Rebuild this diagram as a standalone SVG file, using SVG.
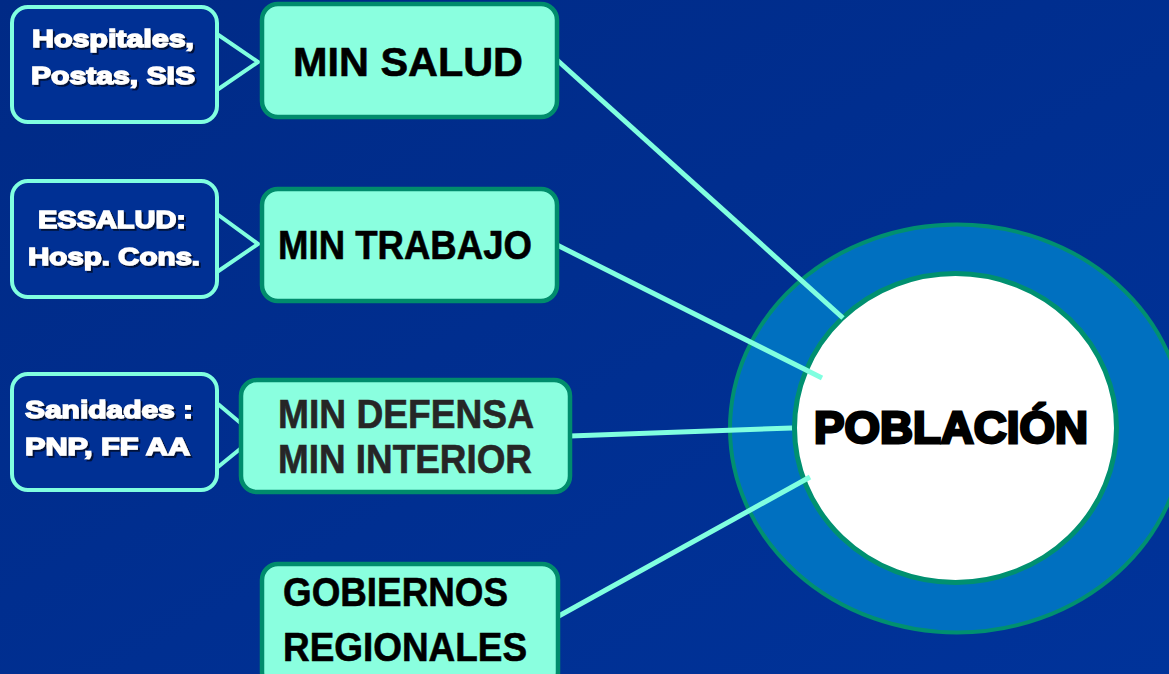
<svg xmlns="http://www.w3.org/2000/svg" width="1169" height="674" viewBox="0 0 1169 674">
<defs>
<linearGradient id="bg" x1="0" y1="0" x2="1" y2="1">
<stop offset="0" stop-color="#002a86"/>
<stop offset="1" stop-color="#00339a"/>
</linearGradient>
<filter id="sh" x="-10%" y="-20%" width="130%" height="150%">
<feDropShadow dx="2" dy="2" stdDeviation="0.6" flood-color="#000a30" flood-opacity="0.9"/>
</filter>
</defs>
<style>
.sbox{fill:#003094;stroke:#80ffe0;stroke-width:4}
.bbox{fill:#8affdf;stroke:#008c6c;stroke-width:4.5}
.ptr{fill:none;stroke:#80ffe0;stroke-width:4;stroke-linejoin:miter}
.conn{stroke:#80ffe0;stroke-width:5;fill:none}
.st{font-family:"Liberation Sans",Arial,sans-serif;font-weight:bold;font-size:24px;fill:#ffffff;stroke:#ffffff;stroke-width:1.4;filter:url(#sh)}
.bt{font-family:"Liberation Sans",Arial,sans-serif;font-weight:bold;font-size:40px;fill:#000000;stroke:#000000;stroke-width:0.6}
.dt{fill:#262626;stroke:#262626}
</style>
<rect x="0" y="0" width="1169" height="674" fill="url(#bg)"/>

<g id="poblacion">
<ellipse cx="957" cy="428.5" rx="227" ry="204" fill="#0070c0" stroke="#009070" stroke-width="4"/>
<ellipse cx="955.5" cy="428" rx="161" ry="154.5" fill="#ffffff" stroke="#009070" stroke-width="5"/>
</g>

<g id="connectors">
<line class="conn" x1="557" y1="60" x2="843" y2="318"/>
<line class="conn" x1="557" y1="245" x2="822" y2="378"/>
<line class="conn" x1="570" y1="436" x2="792" y2="428"/>
<line class="conn" x1="557" y1="617" x2="810" y2="477"/>
<polyline class="ptr" points="217,34 258,62 217,90"/>
<polyline class="ptr" points="217,214 258,244 217,272"/>
<polyline class="ptr" points="218,404 256,436 218,467"/>
</g>

<g id="poblacion-label">
<text x="951" y="443" text-anchor="middle" font-family="'Liberation Sans',Arial,sans-serif" font-weight="bold" font-size="44" fill="#000" stroke="#000" stroke-width="2.8" textLength="274" lengthAdjust="spacingAndGlyphs">POBLACIÓN</text>
</g>

<g id="hospitales">
<rect class="sbox" x="12" y="7" width="205" height="115" rx="16"/>
<text class="st" x="113" y="47" text-anchor="middle" textLength="162" lengthAdjust="spacingAndGlyphs">Hospitales,</text>
<text class="st" x="113" y="84" text-anchor="middle" textLength="164" lengthAdjust="spacingAndGlyphs">Postas, SIS</text>
</g>

<g id="min-salud">
<rect class="bbox" x="262" y="4" width="295" height="113" rx="16"/>
<text class="bt" x="408" y="76" text-anchor="middle" font-size="43" textLength="230" lengthAdjust="spacingAndGlyphs">MIN SALUD</text>
</g>

<g id="essalud">
<rect class="sbox" x="12" y="181" width="205" height="116" rx="16"/>
<text class="st" x="112" y="228" text-anchor="middle" textLength="148" lengthAdjust="spacingAndGlyphs">ESSALUD:</text>
<text class="st" x="114" y="265" text-anchor="middle" textLength="172" lengthAdjust="spacingAndGlyphs">Hosp. Cons.</text>
</g>

<g id="min-trabajo">
<rect class="bbox" x="262" y="189" width="295" height="112" rx="16"/>
<text class="bt" x="405" y="259" text-anchor="middle" font-size="41" textLength="254" lengthAdjust="spacingAndGlyphs">MIN TRABAJO</text>
</g>

<g id="sanidades">
<rect class="sbox" x="12" y="374" width="205" height="116" rx="16"/>
<text class="st" x="25" y="418" textLength="168" lengthAdjust="spacingAndGlyphs">Sanidades :</text>
<text class="st" x="25" y="455" textLength="165" lengthAdjust="spacingAndGlyphs">PNP, FF AA</text>
</g>

<g id="min-defensa-interior">
<rect class="bbox" x="241" y="380" width="329" height="112" rx="16"/>
<text class="bt dt" x="406" y="428" text-anchor="middle" font-size="40" textLength="256" lengthAdjust="spacingAndGlyphs">MIN DEFENSA</text>
<text class="bt dt" x="405" y="473" text-anchor="middle" font-size="40" textLength="254" lengthAdjust="spacingAndGlyphs">MIN INTERIOR</text>
</g>

<g id="gobiernos-regionales">
<rect class="bbox" x="262" y="564" width="296" height="124" rx="16"/>
<text class="bt" x="283" y="606" font-size="38" textLength="225" lengthAdjust="spacingAndGlyphs">GOBIERNOS</text>
<text class="bt" x="283" y="661" font-size="38" textLength="244" lengthAdjust="spacingAndGlyphs">REGIONALES</text>
</g>
</svg>
